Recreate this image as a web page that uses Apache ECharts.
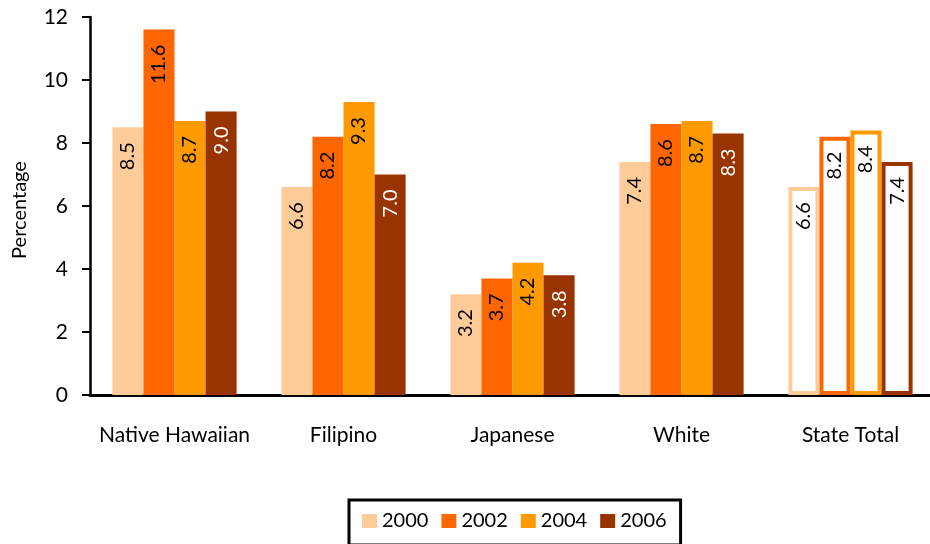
<!DOCTYPE html>
<html><head><meta charset="utf-8">
<script src="https://cdn.jsdelivr.net/npm/echarts@6/dist/echarts.min.js"></script>
<style>html,body{margin:0;padding:0;background:#fff}#c{width:930px;height:544px}</style>
</head><body><div id="c"></div>
<script>
const categories = ['Native Hawaiian', 'Filipino', 'Japanese', 'White', 'State Total'];
const years = ['2000', '2002', '2004', '2006'];
const v2000 = [8.5, 6.6, 3.2, 7.4, 6.6];
const v2002 = [11.6, 8.2, 3.7, 8.6, 8.2];
const v2004 = [8.7, 9.3, 4.2, 8.7, 8.4];
const v2006 = [9.0, 7.0, 3.8, 8.3, 7.4];
const yTicks = [0, 2, 4, 6, 8, 10, 12];
const yTitle = 'Percentage';

const colors = ['#FFCC99', '#FF6600', '#FF9900', '#993300'];
const labelColors = ['#000', '#000', '#000', '#fff'];
const seriesValues = [v2000, v2002, v2004, v2006];
const FONT = 'Lato, "Open Sans", sans-serif';

const series = seriesValues.map((vals, si) => ({
  name: years[si],
  type: 'bar',
  barGap: '0%',
  barCategoryGap: '26.5%',
  itemStyle: { color: colors[si] },
  label: {
    show: true, position: 'insideTop', rotate: 90, distance: 15,
    align: 'right', verticalAlign: 'middle',
    color: labelColors[si], fontSize: 20, fontFamily: FONT,
    formatter: p => p.value.toFixed(1)
  },
  data: vals.map((v, i) => {
    if (categories[i] === 'State Total') {
      return { value: v, itemStyle: { color: '#fff', borderColor: colors[si], borderWidth: 4 },
               label: { color: '#000' } };
    }
    return v;
  })
}));

const chart = echarts.init(document.getElementById('c'));
chart.setOption({
  animation: false,
  color: colors,
  grid: { left: 90, right: -5, top: 17, bottom: 149, outerBoundsMode: 'none', containLabel: false },
  xAxis: {
    type: 'category', data: categories,
    axisLine: { lineStyle: { color: '#000', width: 3 } },
    axisTick: { show: false },
    axisLabel: { color: '#000', fontSize: 21, fontFamily: FONT, margin: 30, interval: 0 }
  },
  yAxis: {
    type: 'value', min: yTicks[0], max: yTicks[yTicks.length - 1], interval: 2,
    axisLine: { show: true, lineStyle: { color: '#000', width: 2.5 } },
    axisTick: { show: true, length: 8, lineStyle: { color: '#000', width: 2 } },
    splitLine: { show: false },
    axisLabel: { color: '#000', fontSize: 21, fontFamily: FONT, margin: 22 }
  },
  graphic: [{
    type: 'text', x: 20, y: 210, rotation: Math.PI / 2,
    style: { text: yTitle, fill: '#000', font: '20px ' + FONT, align: 'center', verticalAlign: 'middle' }
  }],
  legend: {
    data: years, top: 500, left: 349,
    icon: 'rect', itemWidth: 15, itemHeight: 14, itemGap: 13,
    borderColor: '#000', borderWidth: 3, padding: [11, 14, 14, 13],
    textStyle: { color: '#000', fontSize: 20, fontFamily: FONT }
  },
  series
});
</script></body></html>
